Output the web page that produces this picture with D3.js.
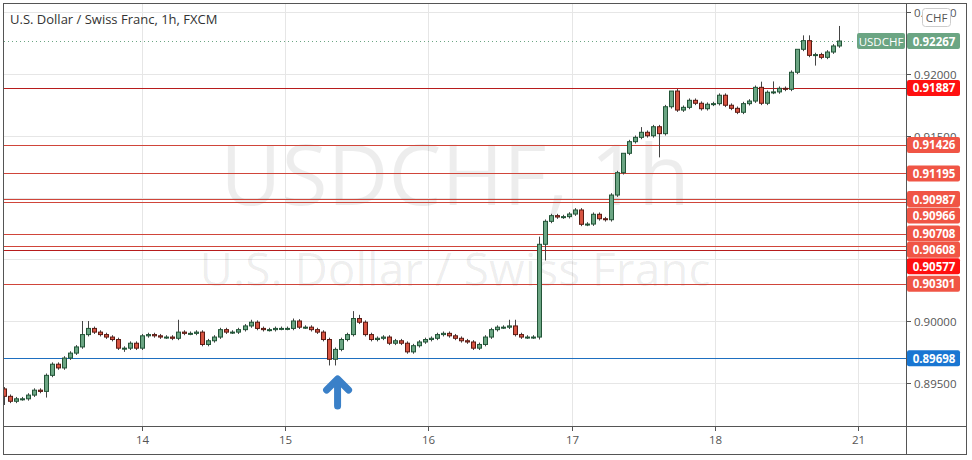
<!DOCTYPE html>
<html><head><meta charset="utf-8">
<script src="https://cdn.jsdelivr.net/npm/d3@7"></script>
<style>body{margin:0;background:#fff}svg{display:block;font-family:"Open Sans","DejaVu Sans",sans-serif}</style>
</head><body><svg id="c" width="972" height="460"></svg>
<script>
const firstOpen = 0.8945;
const closes = [
.8939,.8935,.8937,.8937,.8940,.8944,.8943,.8956,.8965,.8962,.8970,.8974,.8979,.8989,.8994,.8991,.8989,.8987,.8985,.8978,
.8978,.8982,.8978,.8988,.8989,.8988,.8987,.8987,.8986,.8991,.8990,.8990,.8991,.8981,.8984,.8987,.8993,.8991,.8991,.8993,
.8996,.8999,.8994,.8993,.8993,.8994,.8994,.8994,.9000,.8995,.8995,.8993,.8991,.8985,.8969,.8977,.8985,.8989,.9002,.8999,
.8989,.8985,.8986,.8987,.8982,.8984,.8982,.8975,.8980,.8983,.8985,.8986,.8989,.8990,.8988,.8986,.8984,.8983,.8978,.8981,
.8987,.8993,.8995,.8995,.8996,.8989,.8987,.8987,.8987,
.90621,.90807,.90853,.90842,.90845,.90866,.90899,.90783,.90785,.90864,.90828,.90820,.91020,.91201,.91358,.91452,.91487,
.91528,.91500,.91573,.91517,.91735,.91862,.91708,.91730,.91787,.91763,.91719,.91755,.91760,.91828,.91747,.91722,.91690,
.91760,.91781,.91892,.91763,.91852,.91855,.91884,.91876,.92014,.92200,.92270,.92151,.92157,.92135,.92178,.92227,.92267];
const highMarks = [[13,.9000],[14,.9000],[29,.9001],[41,.9001],[48,.9002],[58,.9008],[59,.9005],[84,.9001],[85,.9001],
 [89,.90683],[103,.9133],[106,.9157],[111,.91776],[112,.91878],[126,.91938],[128,.9194],[132,.92189],[133,.92313],[134,.92313],[139,.92389]];
const lowMarks = [[7,.8938],[54,.8964],[55,.8964],[89,.8985],[90,.9049],[109,.91325],[135,.92068],[0,.8932],[20,.8975]];
const dayLabels = ["14","15","16","17","18","21"];
const dayIdx = [23,46.8,70.6,94.5,118.3,142.1];
const priceTicks = [0.895,0.900,0.905,0.910,0.915,0.920,0.925];
const hiddenTickLabels = [0.905,0.910];
const levels = [0.91887,0.91426,0.91195,0.90987,0.90966,0.90708,0.90608,0.90577,0.90301];
const strongLevels = [0.91887,0.90577];
const supportLevel = 0.89698;
const lastPrice = 0.92267;

const svg = d3.select("#c");
const L=4,R=906,T=4,B=426;
const x = d3.scaleLinear().domain([0,139]).range([4.3,839]);
const y = d3.scaleLinear().domain([0.90,0.92]).range([321,74]);
const fmt = d3.format(".5f");

svg.append("rect").attr("x",3.5).attr("y",3.5).attr("width",963).attr("height",451).attr("fill","#fff").attr("stroke","#555");
svg.append("line").attr("x1",R+.5).attr("x2",R+.5).attr("y1",4).attr("y2",454).attr("stroke","#555");
svg.append("line").attr("x1",4).attr("x2",966).attr("y1",B+.5).attr("y2",B+.5).attr("stroke","#555");

svg.append("clipPath").attr("id","pc").append("rect").attr("x",L).attr("y",T).attr("width",R-L).attr("height",B-T);
const g = svg.append("g").attr("clip-path","url(#pc)");
priceTicks.forEach(p=>g.append("line").attr("x1",L).attr("x2",R).attr("y1",Math.round(y(p))+.5).attr("y2",Math.round(y(p))+.5).attr("stroke","#e6e6e6"));
dayIdx.forEach(i=>g.append("line").attr("x1",Math.round(x(i))+.5).attr("x2",Math.round(x(i))+.5).attr("y1",T).attr("y2",B).attr("stroke","#e6e6e6"));

g.append("text").attr("x",455).attr("y",205).attr("text-anchor","middle").attr("font-size",84).attr("fill","rgba(0,0,0,0.07)").text("USDCHF, 1h");
g.append("text").attr("x",455).attr("y",286).attr("text-anchor","middle").attr("font-size",46).attr("fill","rgba(0,0,0,0.07)").text("U.S. Dollar / Swiss Franc");

levels.forEach(p=>g.append("line").attr("x1",L).attr("x2",R).attr("y1",Math.round(y(p))+.5).attr("y2",Math.round(y(p))+.5)
  .attr("stroke", strongLevels.includes(p)?"#b71c1c":"#d0453a"));
g.append("line").attr("x1",L).attr("x2",R).attr("y1",Math.round(y(supportLevel))+.5).attr("y2",Math.round(y(supportLevel))+.5).attr("stroke","#1e6fc0");
g.append("line").attr("x1",L).attr("x2",855).attr("y1",Math.round(y(lastPrice))+.5).attr("y2",Math.round(y(lastPrice))+.5)
  .attr("stroke","#6ba583").attr("stroke-dasharray","1,3");

const hiMap=new Map(highMarks), loMap=new Map(lowMarks);
const data = closes.map((c,i)=>{const o=i?closes[i-1]:firstOpen;
  return {i,o,c,h:hiMap.has(i)?hiMap.get(i):Math.max(o,c)+0.00015,l:loMap.has(i)?loMap.get(i):Math.min(o,c)-0.00015};});
const cg=g.selectAll("g.k").data(data).join("g");
cg.append("line").attr("x1",d=>Math.round(x(d.i))+.5).attr("x2",d=>Math.round(x(d.i))+.5)
  .attr("y1",d=>y(d.h)).attr("y2",d=>y(d.l)).attr("stroke","#444");
cg.append("rect").attr("x",d=>Math.round(x(d.i))-1.5).attr("width",4)
  .attr("y",d=>y(Math.max(d.o,d.c))).attr("height",d=>Math.max(1,Math.abs(y(d.o)-y(d.c))))
  .attr("fill",d=>d.c>=d.o?"#6ba583":"#d75442").attr("stroke",d=>d.c>=d.o?"#225437":"#5b1a13").attr("stroke-width",1);

const ax=x(55)+3, ay=376;
g.append("path").attr("d",`M${ax-11},${ay+14} L${ax},${ay+3} L${ax+11},${ay+14} M${ax},${ay+4} L${ax},${ay+30}`)
  .attr("fill","none").attr("stroke","#3a80c8").attr("stroke-width",7).attr("stroke-linecap","round").attr("stroke-linejoin","round");

svg.append("text").attr("x",10).attr("y",24).attr("font-size",13).attr("fill","#333").text("U.S. Dollar / Swiss Franc, 1h, FXCM");

priceTicks.forEach(p=>{const yy=Math.round(y(p))+.5;
  svg.append("line").attr("x1",R).attr("x2",R+5).attr("y1",yy).attr("y2",yy).attr("stroke","#555");
  if(!hiddenTickLabels.includes(p))
    svg.append("text").attr("x",914).attr("y",yy+4.5).attr("font-size",11.5).attr("fill","#555").text(fmt(p));});
dayIdx.forEach((d,k)=>{const xx=Math.round(x(d))+.5;
  svg.append("line").attr("x1",xx).attr("x2",xx).attr("y1",B).attr("y2",B+5).attr("stroke","#555");
  svg.append("text").attr("x",xx).attr("y",444).attr("text-anchor","middle").attr("font-size",11.5).attr("fill","#555").text(dayLabels[k]);});

function tag(p,col,yy){
  svg.append("rect").attr("x",R+1).attr("y",yy-8).attr("width",53).attr("height",16).attr("rx",2).attr("fill",col);
  svg.append("text").attr("x",R+28).attr("y",yy+4.5).attr("text-anchor","middle").attr("font-size",11.5).attr("font-weight","bold").attr("fill","#fff").text(fmt(p));}
let prev=-1e9;
levels.forEach(p=>{let yy=Math.max(y(p),prev+16.3); prev=yy;
  tag(p, strongLevels.includes(p)?"#ff1010":"#f05545", yy);});
tag(supportLevel,"#1976d2",y(supportLevel));
tag(lastPrice,"#6ba583",y(lastPrice));
svg.append("rect").attr("x",857).attr("y",y(lastPrice)-8).attr("width",48).attr("height",16).attr("rx",2).attr("fill","#6ba583");
svg.append("text").attr("x",881).attr("y",y(lastPrice)+4.5).attr("text-anchor","middle").attr("font-size",11.5).attr("fill","#fff").text("USDCHF");
svg.append("rect").attr("x",922.5).attr("y",8.5).attr("width",28).attr("height",18).attr("rx",3).attr("fill","#fff").attr("stroke","#ccc");
svg.append("text").attr("x",936.5).attr("y",22).attr("text-anchor","middle").attr("font-size",11.5).attr("fill","#555").text("CHF");
</script></body></html>
